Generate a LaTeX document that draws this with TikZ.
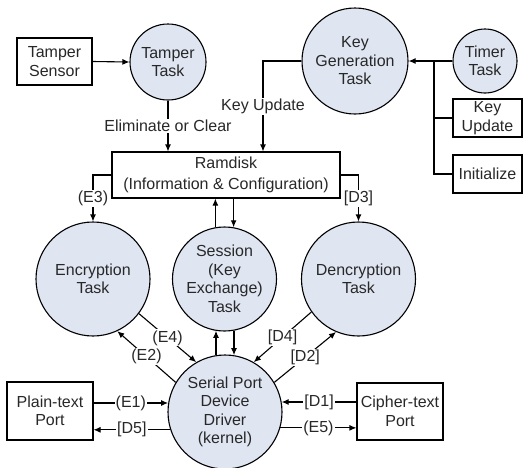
\documentclass[tikz,border=0pt]{standalone}
\usepackage{fontspec}
\setmainfont{Liberation Sans}
\usetikzlibrary{arrows.meta,calc}
\definecolor{cfill}{RGB}{223,230,242}
\definecolor{txt}{RGB}{40,40,40}
\begin{document}
\begin{tikzpicture}[x=1pt,y=-1pt,
  every node/.style={font=\fontsize{16}{18.5}\selectfont, text=txt},
  task/.style={circle, draw, line width=1.1pt, fill=cfill, align=center, inner sep=0pt},
  box/.style={rectangle, draw, line width=1.1pt, fill=white, align=center, inner sep=0pt},
  conn/.style={line width=1.1pt},
  arr/.style={conn, -{Latex[length=7pt,width=6pt]}},
  lbl/.style={fill=white, inner sep=1pt}]
\useasboundingbox (0,0) rectangle (523,467);

\node[box, minimum width=75, minimum height=47] (sensor) at (54.5,61.5) {Tamper\\Sensor};
\node[task, minimum size=76] (tamper) at (168,62) {Tamper\\Task};
\node[task, minimum size=106] (keygen) at (355,61) {Key\\Generation\\Task};
\node[task, minimum size=64] (timer) at (485,61) {Timer\\Task};
\node[box, minimum width=69, minimum height=38] (keyup) at (487.5,118) {Key\\Update};
\node[box, minimum width=69, minimum height=38] (init) at (487.5,174) {Initialize};
\node[box, minimum width=228, minimum height=46] (ram) at (226,175) {Ramdisk\\[2pt](Information \& Configuration)};
\node[task, minimum size=114] (enc) at (93,279) {Encryption\\Task};
\node[task, minimum size=104] (ses) at (224.5,279) {Session\\(Key\\Exchange)\\Task};
\node[task, minimum size=114] (dec) at (358.5,279) {Dencryption\\Task};
\node[task, minimum size=114] (ser) at (225,412) {Serial Port\\Device\\Driver\\(kernel)};
\node[box, minimum width=86, minimum height=58] (plain) at (50,411) {Plain-text\\Port};
\node[box, minimum width=86, minimum height=57] (cipher) at (400,411.5) {Cipher-text\\Port};
\coordinate (jn) at (434,61);

\draw[arr] (sensor.east) -- (tamper.west);
\draw[arr] (tamper.south) -- (tamper.south |- ram.north) node[lbl, midway] {Eliminate or Clear};
\draw[arr] (keygen.west) -| ([xshift=37pt]ram.north) node[lbl, pos=0.75] {Key Update};
\draw[arr] (timer.west) -- (keygen.east);
\draw[conn] (keyup.west) -- (keyup.west -| jn);
\draw[conn] (init.west) -| (jn);
\draw[arr] (ram.west) -| (enc.north) node[lbl, pos=0.75] {(E3)};
\draw[arr] (ram.east) -| (dec.north) node[lbl, pos=0.75] {[D3]};
\draw[arr] (ses.100) -- (ses.100 |- ram.south);
\draw[arr] (ram.south -| ses.80) -- (ses.80);
\draw[arr] (ser.99) -- (ser.99 |- ses.-100);
\draw[arr] (ser.81 |- ses.-80) -- (ser.81);
\draw[arr] (ser.149) -- (enc.-65) node[lbl, midway] {(E2)};
\draw[arr] (enc.-37) -- (ser.120) node[lbl, midway] {(E4)};
\draw[arr] (dec.-145) -- (ser.60) node[lbl, midway] {[D4]};
\draw[arr] (ser.31) -- (dec.-113) node[lbl, midway] {[D2]};
\draw[arr] (plain.east |- ser.171) -- (ser.171) node[lbl, midway] {(E1)};
\draw[arr] (ser.198) -- (ser.198 -| plain.east) node[lbl, midway] {[D5]};
\draw[arr] (cipher.west |- ser.10) -- (ser.10) node[lbl, midway] {[D1]};
\draw[arr] (ser.-16) -- (ser.-16 -| cipher.west) node[lbl, midway] {(E5)};
\end{tikzpicture}
\end{document}
